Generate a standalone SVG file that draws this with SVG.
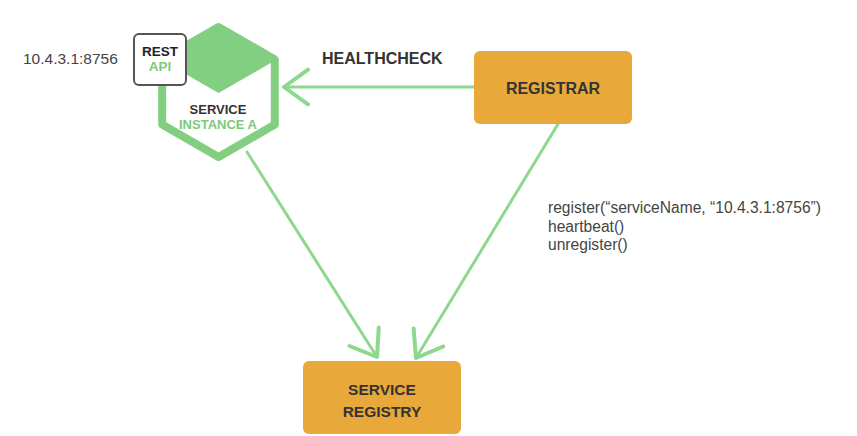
<svg xmlns="http://www.w3.org/2000/svg" width="857" height="436" viewBox="0 0 857 436">
<style>
.bold{font-family:"Liberation Sans",Arial,sans-serif;font-weight:bold;fill:#333}
.reg{font-family:"Liberation Sans",Arial,sans-serif;fill:#444}
.green{fill:#7cc97c}
.box{fill:#e8a83a}
.conn{stroke:#8ed88e;stroke-width:3;fill:none;stroke-linecap:round}
</style>
<defs>
<marker id="arr" markerUnits="userSpaceOnUse" markerWidth="40" markerHeight="40" viewBox="-20 -15 22 30" refX="0" refY="0" orient="auto">
<path d="M-18,-13 L0,0 L-18,13" fill="none" stroke="#8ed88e" stroke-width="3" stroke-linecap="round" stroke-linejoin="round"/>
</marker>
</defs>
<rect width="857" height="436" fill="#fff"/>
<g id="connectors">
<line class="conn" x1="474" y1="87" x2="284" y2="87" marker-end="url(#arr)"/>
<line class="conn" x1="247" y1="152" x2="377" y2="357" marker-end="url(#arr)"/>
<line class="conn" x1="558" y1="124" x2="416" y2="358" marker-end="url(#arr)"/>
</g>
<g id="service-instance-a">
<polygon points="218.5,27 274.8,59.5 274.8,124.5 218.5,157 162.2,124.5 162.2,59.5" fill="#fff" stroke="#82cf82" stroke-width="8" stroke-linejoin="round"/>
<polygon points="218.5,27 274.8,59.5 218.5,92 162.2,59.5" fill="#82cf82" stroke="#82cf82" stroke-width="2" stroke-linejoin="round"/>
<text class="bold" x="218" y="114" font-size="13" text-anchor="middle">SERVICE</text>
<text class="bold green" x="218" y="129" font-size="13" text-anchor="middle">INSTANCE A</text>
</g>
<g id="rest-api">
<rect x="134" y="34" width="52" height="51" rx="5" fill="#fff" stroke="#555" stroke-width="2"/>
<text class="bold" x="160" y="56" font-size="13.5" text-anchor="middle" style="fill:#222">REST</text>
<text class="bold green" x="160" y="71" font-size="13.5" text-anchor="middle">API</text>
</g>
<g id="ip-label">
<text class="reg" x="23" y="64" font-size="15.5">10.4.3.1:8756</text>
</g>
<g id="healthcheck-label">
<text class="bold" x="322" y="64" font-size="16">HEALTHCHECK</text>
</g>
<g id="registrar">
<rect class="box" x="474" y="51" width="158" height="73" rx="6"/>
<text class="bold" x="553" y="94" font-size="16" text-anchor="middle">REGISTRAR</text>
</g>
<g id="service-registry">
<rect class="box" x="303" y="361" width="158" height="73" rx="6"/>
<text class="bold" x="382" y="395" font-size="15.5" text-anchor="middle">SERVICE</text>
<text class="bold" x="382" y="417" font-size="15.5" text-anchor="middle">REGISTRY</text>
</g>
<g id="api-label">
<text class="reg" x="548" y="213" font-size="15.6">register(“serviceName, “10.4.3.1:8756”)</text>
<text class="reg" x="548" y="232" font-size="15.6">heartbeat()</text>
<text class="reg" x="548" y="250" font-size="15.6">unregister()</text>
</g>
</svg>
